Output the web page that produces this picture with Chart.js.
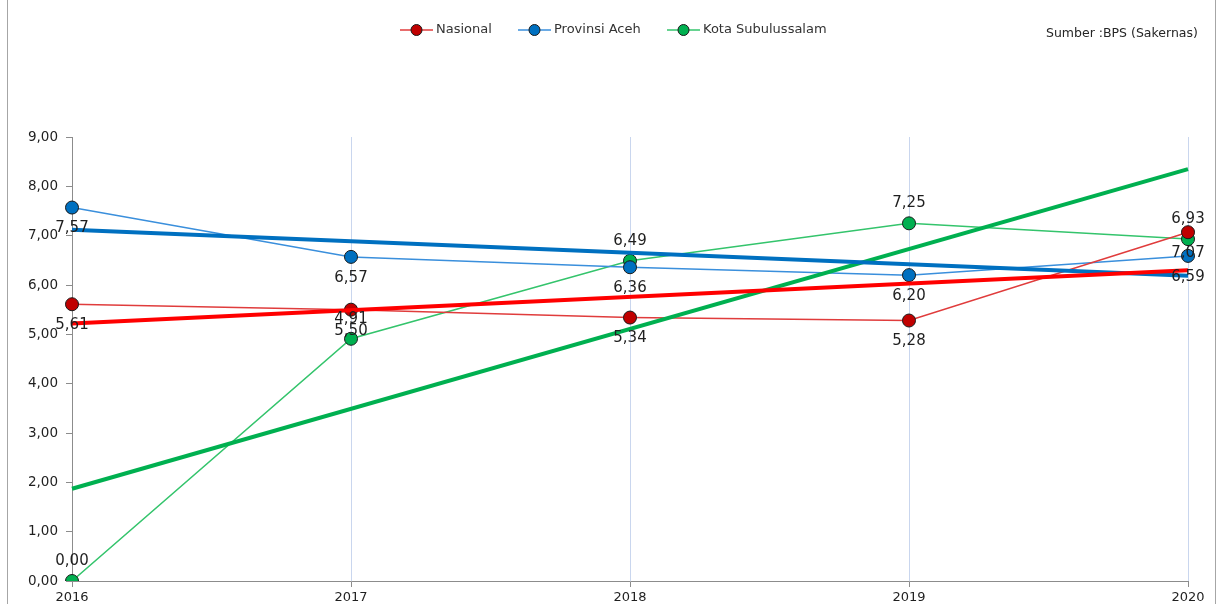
<!DOCTYPE html>
<html>
<head>
<meta charset="utf-8">
<script src="https://cdn.jsdelivr.net/npm/chart.js@4"></script>
<style>
  body { margin: 0; background: #fff; font-family: "DejaVu Sans", sans-serif; }
  #wrap { position: relative; width: 1219px; height: 604px; overflow: hidden; }
  #frame { position: absolute; left: 7px; top: -2px; width: 1207px; height: 620px;
           border-left: 1px solid #a6a6a6; border-right: 1px solid #a6a6a6; }
  .leg { position: absolute; top: 21px; font-size: 13px; color: #333; white-space: nowrap; }
  .leg svg { vertical-align: middle; margin-right: 3px; }
  #src { position: absolute; left: 1046px; top: 25px; font-size: 12.5px; color: #262626; white-space: nowrap; }
</style>
</head>
<body>
<div id="wrap">
  <canvas id="c" width="1219" height="604"></canvas>
  <div id="frame"></div>
  <div id="legend"></div>
  <div id="src">Sumber :BPS (Sakernas)</div>
</div>
<script>
// Data
const years = ["2016", "2017", "2018", "2019", "2020"]
const nasional = [5.61, 5.50, 5.34, 5.28, 7.07]
const aceh = [7.57, 6.57, 6.36, 6.20, 6.59]
const kota = [0.00, 4.91, 6.49, 7.25, 6.93]
// trend lines (start / end)
const nasionalTrend = [5.22, null, null, null, 6.30]
const acehTrend = [7.12, null, null, null, 6.19]
const kotaTrend = [1.87, null, null, null, 8.35]

const fmt = v => v.toFixed(2).replace(".", ",")

// Legend (HTML)
const legendItems = [
  { label: "Nasional", line: "#e03c3c", fill: "#c00000", x: 400 },
  { label: "Provinsi Aceh", line: "#3a8fdc", fill: "#0070c0", x: 518 },
  { label: "Kota Subulussalam", line: "#34c46c", fill: "#00b050", x: 667 },
]
const legendDiv = document.getElementById("legend")
legendItems.forEach(it => {
  const d = document.createElement("div")
  d.className = "leg"
  d.style.left = it.x + "px"
  d.innerHTML =
    '<svg width="33" height="14"><line x1="0" y1="7" x2="33" y2="7" stroke="' + it.line +
    '" stroke-width="1.5"/><circle cx="16.5" cy="7" r="5.5" fill="' + it.fill +
    '" stroke="#1a1a1a" stroke-width="1"/></svg>' + it.label
  legendDiv.appendChild(d)
})

// value labels: red/blue below the point, green above
const valueLabels = {
  id: "valueLabels",
  afterDatasetsDraw(chart) {
    const ctx = chart.ctx
    ctx.save()
    ctx.font = "15px 'DejaVu Sans'"
    ctx.fillStyle = "#1f1f1f"
    ctx.textAlign = "center"
    ctx.textBaseline = "middle"
    chart.data.datasets.forEach((ds, i) => {
      if (!ds.showLabels) return
      const meta = chart.getDatasetMeta(i)
      meta.data.forEach((pt, j) => {
        const off = ds.showLabels === "above" ? -20 : 21
        ctx.fillText(fmt(ds.data[j]), pt.x, pt.y + off)
      })
    })
    ctx.restore()
  },
}

function series(label, data, line, fill, labels) {
  return {
    label: label,
    data: data,
    borderColor: line,
    borderWidth: 1.5,
    backgroundColor: fill,
    pointBackgroundColor: fill,
    pointBorderColor: "#1a1a1a",
    pointBorderWidth: 1,
    pointRadius: 6.5,
    pointHoverRadius: 6.5,
    tension: 0,
    showLabels: labels,
    order: 2,
  }
}

function trend(data, color) {
  return {
    data: data,
    borderColor: color,
    borderWidth: 4,
    pointRadius: 0,
    spanGaps: true,
    tension: 0,
    order: 1,
  }
}

new Chart(document.getElementById("c").getContext("2d"), {
  type: "line",
  data: {
    labels: years,
    datasets: [
      series("Nasional", nasional, "#e03c3c", "#c00000", "below"),
      series("Provinsi Aceh", aceh, "#3a8fdc", "#0070c0", "below"),
      series("Kota Subulussalam", kota, "#34c46c", "#00b050", "above"),
      trend(nasionalTrend, "#ff0000"),
      trend(acehTrend, "#0070c0"),
      trend(kotaTrend, "#00b050"),
    ],
  },
  options: {
    responsive: false,
    animation: false,
    events: [],
    layout: { padding: { top: 137, right: 31, left: 0, bottom: 0 } },
    plugins: { legend: { display: false }, tooltip: { enabled: false } },
    scales: {
      x: {
        offset: false,
        afterFit: s => { s.height = 23 },
        border: { display: true, color: "#8c8c8c", width: 1 },
        grid: {
          color: c => (c.index === 0 ? "rgba(0,0,0,0)" : "#c9d6ee"),
          tickColor: "#8c8c8c",
          tickLength: 6,
          lineWidth: 1,
        },
        ticks: { color: "#1f1f1f", font: { family: "DejaVu Sans", size: 13 }, padding: 3, maxRotation: 0 },
      },
      y: {
        min: 0,
        max: 9,
        afterFit: s => { s.width = 72 },
        border: { display: true, color: "#8c8c8c", width: 1 },
        grid: { drawOnChartArea: false, tickColor: "#8c8c8c", tickLength: 6 },
        ticks: {
          stepSize: 1,
          color: "#1f1f1f",
          font: { family: "DejaVu Sans", size: 13.5 },
          padding: 8,
          callback: v => fmt(v),
        },
      },
    },
  },
  plugins: [valueLabels],
})
</script>
</body>
</html>
